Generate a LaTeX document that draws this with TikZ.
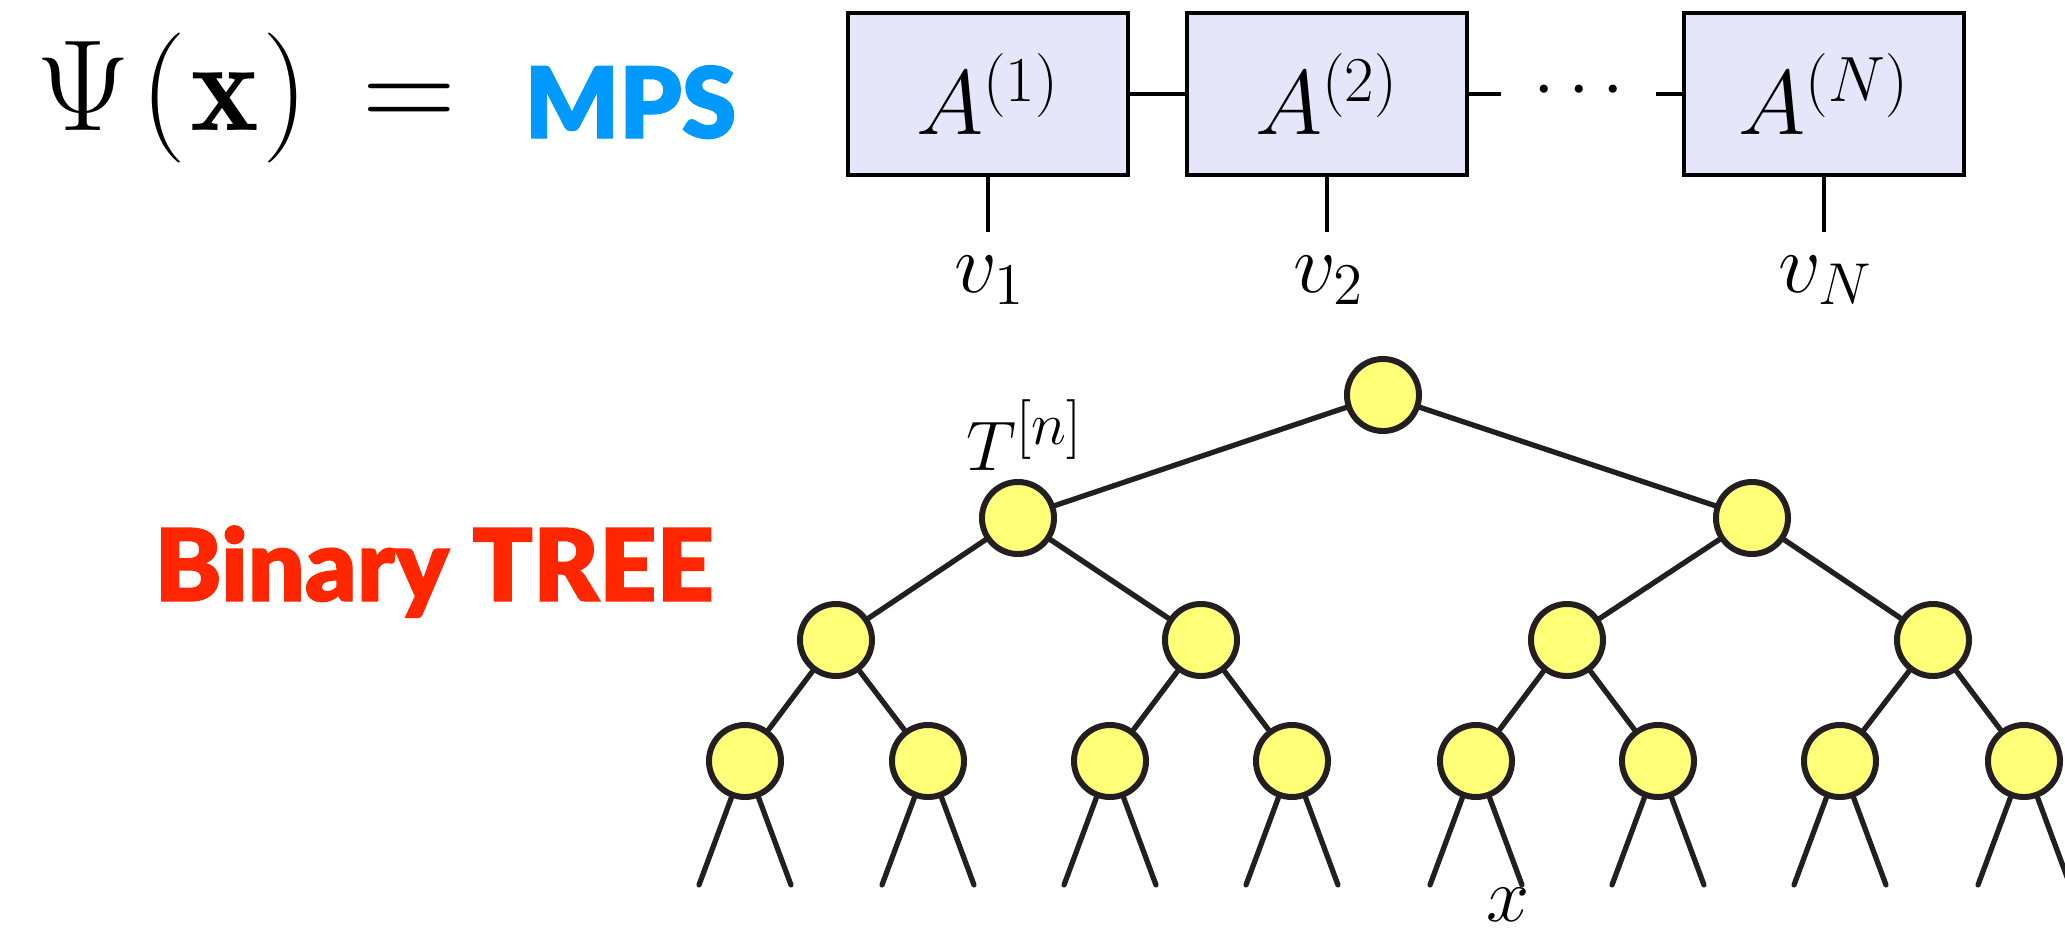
\RequirePackage{fix-cm}
\documentclass[tikz,border=0pt]{standalone}
\usepackage{fontspec}
\newfontfamily\heavy{Lato Black}[FakeBold=1.2]
\usetikzlibrary{calc}
\definecolor{mpsblue}{HTML}{0099FF}
\definecolor{treered}{HTML}{FF2600}
\definecolor{boxfill}{HTML}{E6E6FA}
\definecolor{nodefill}{HTML}{FFFF78}
\definecolor{ink}{HTML}{231F20}
\begin{document}
\begin{tikzpicture}[x=0.01cm,y=-0.01cm,
  tensor/.style={draw=black, line width=1.2pt, fill=boxfill, minimum width=2.8cm, minimum height=1.62cm, inner sep=0, font=\fontsize{26}{28}\selectfont},
  bond/.style={line width=1.4pt},
  leg/.style={line width=0.9pt},
  tn/.style={circle, draw=ink, fill=nodefill, line width=1.7pt, minimum size=0.72cm, inner sep=0},
  edge/.style={draw=ink, line width=1.5pt, line cap=round},
  lbl/.style={inner sep=0, font=\fontsize{24}{26}\selectfont},
]
\useasboundingbox (0,0) rectangle (2065,936);
% equation
\node[anchor=base west, inner sep=0, font=\fontsize{37}{40}\selectfont] (psi) at (36,130) {$\Psi\hspace{3pt}(\hspace{1pt}\mathbf{x}\hspace{1pt})\hspace{5pt}=$};
\node[anchor=base west, inner sep=0, text=mpsblue, font=\heavy\fontsize{28}{30}\selectfont] (mps) at (524,138) {MPS};
\node[anchor=base west, inner sep=0, text=treered, font=\heavy\fontsize{28.5}{30}\selectfont] (bt) at (154,601) {Binary TREE};
% MPS chain
\node[tensor] (A1) at (988,94) {$A^{(1)}$};
\node[tensor] (A2) at (1327,94) {$A^{(2)}$};
\node[tensor] (A3) at (1824,94) {$A^{(N)}$};
\draw[bond] (A1) -- (A2);
\coordinate (d1) at (1501,94);
\coordinate (d2) at (1656,94);
\draw[bond] (A2.east) -- (d1);
\draw[bond] (d2) -- (A3.west);
\node[anchor=base, inner sep=0, font=\fontsize{22}{24}\selectfont] (dots) at (1579,108) {$\cdots$};
\coordinate (e1) at (988,232);
\coordinate (e2) at (1327,232);
\coordinate (e3) at (1824,232);
\draw[leg] (A1.south) -- (e1);
\draw[leg] (A2.south) -- (e2);
\draw[leg] (A3.south) -- (e3);
\node[lbl, anchor=base] (v1) at (990,292) {$v_1$};
\node[lbl, anchor=base] (v2) at (1329,292) {$v_2$};
\node[lbl, anchor=base] (vN) at (1826,292) {$v_N$};
% tree
\node[tn] (r) at (1383,395) {};
\node[tn] (a1) at (1018,518) {};
\node[tn] (a2) at (1752,518) {};
\node[tn] (b1) at (836,640) {};
\node[tn] (b2) at (1201,640) {};
\node[tn] (b3) at (1567,640) {};
\node[tn] (b4) at (1933,640) {};
\foreach \i/\x in {1/745,2/928,3/1110,4/1292,5/1476,6/1658,7/1840,8/2024} {
  \node[tn] (c\i) at (\x,761) {};
  \coordinate (c\i l) at (\x-46,885);
  \coordinate (c\i r) at (\x+46,885);
  \draw[edge] (c\i) -- (c\i l);
  \draw[edge] (c\i) -- (c\i r);
}
\draw[edge] (r) -- (a1);
\draw[edge] (r) -- (a2);
\draw[edge] (a1) -- (b1);
\draw[edge] (a1) -- (b2);
\draw[edge] (a2) -- (b3);
\draw[edge] (a2) -- (b4);
\draw[edge] (b1) -- (c1);
\draw[edge] (b1) -- (c2);
\draw[edge] (b2) -- (c3);
\draw[edge] (b2) -- (c4);
\draw[edge] (b3) -- (c5);
\draw[edge] (b3) -- (c6);
\draw[edge] (b4) -- (c7);
\draw[edge] (b4) -- (c8);
\node[inner sep=0, anchor=base west, font=\fontsize{20}{22}\selectfont] (tl) at (966,470) {$T^{\mbox{\fontsize{17}{18}\selectfont$[n]$}}$};
\node[inner sep=0, anchor=base, font=\fontsize{22}{24}\selectfont] (xl) at (1508,921) {$x$};
\end{tikzpicture}
\end{document}
